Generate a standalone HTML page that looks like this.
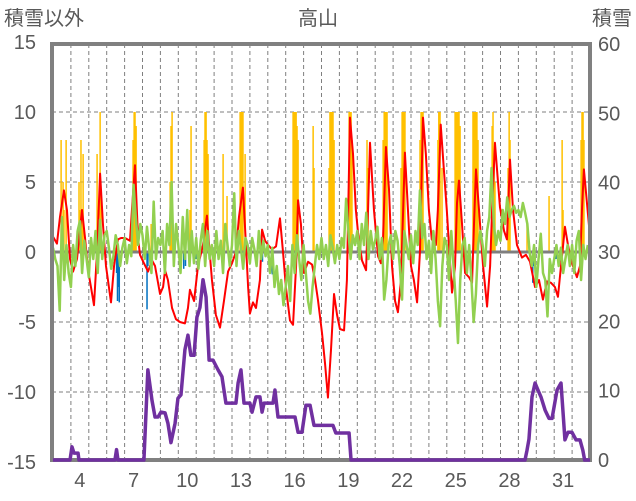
<!DOCTYPE html>
<html><head><meta charset="utf-8"><style>
body{margin:0;background:#fff;width:636px;height:501px;overflow:hidden}
svg{display:block}
text{font-family:"Liberation Sans","Noto Sans CJK JP",sans-serif;fill:#595959}
</style></head><body>
<svg id="chart" width="636" height="501" viewBox="0 0 636 501" xmlns="http://www.w3.org/2000/svg">
<defs><clipPath id="pc"><rect x="52" y="44" width="539" height="416"/></clipPath>
<clipPath id="pc2"><rect x="52" y="44" width="539" height="420"/></clipPath></defs>
<text x="318" y="25" font-size="20" text-anchor="middle">高山</text>
<text x="4" y="25" font-size="20">積雪以外</text>
<text x="632" y="25" font-size="20" text-anchor="end">積雪</text>
<g id="grid"></g>
<g id="marks" clip-path="url(#pc)"></g>
<g id="frame"></g>
<g id="snow" clip-path="url(#pc2)"></g>
<g id="labels"></g>
</svg>
<script>
const leftTicks=[15,10,5,0,-5,-10,-15];
const rightTicks=[60,50,40,30,20,10,0];
const xTickDays=[4,7,10,13,16,19,22,25,28,31];
const redT=[3.0,3.22,3.39,3.61,3.78,3.95,4.12,4.34,4.62,4.79,4.96,5.12,5.29,5.46,5.63,5.79,5.96,6.07,6.24,6.41,6.63,6.8,7.02,7.3,7.41,7.58,7.75,7.86,8.08,8.31,8.53,8.7,8.98,9.15,9.26,9.42,9.65,9.87,10.09,10.37,10.54,10.65,10.88,11.1,11.38,11.6,11.72,11.88,12.1,12.33,12.55,12.78,13.0,13.22,13.39,13.61,13.78,13.9,14.0,14.17,14.34,14.56,14.68,14.85,15.02,15.23,15.46,15.68,15.85,16.01,16.24,16.41,16.58,16.69,16.85,17.02,17.25,17.47,17.64,17.8,18.03,18.2,18.36,18.53,18.7,18.87,19.03,19.26,19.42,19.59,19.76,19.92,20.04,20.26,20.49,20.6,20.71,20.93,21.16,21.32,21.44,21.6,21.77,21.94,22.11,22.27,22.44,22.66,22.83,23.0,23.16,23.34,23.5,23.67,23.83,24.0,24.16,24.39,24.5,24.66,24.83,25.0,25.17,25.29,25.46,25.57,25.68,25.85,26.02,26.24,26.41,26.52,26.63,26.8,27.02,27.25,27.42,27.53,27.69,27.86,27.97,28.2,28.36,28.53,28.7,28.92,29.2,29.42,29.65,29.93,30.15,30.37,30.6,30.82,31.04,31.21,31.38,31.6,31.77,31.99,32.27,32.44,32.55,32.66,32.83,33.0];
const redV=[1.1,0.6,2.5,4.4,3,-0.5,-1.4,-0.5,3,1,-1.3,-2.5,-3.8,0,5.6,2,-1,-2,-3.6,-1,0.9,1,1,0.8,3,6.2,1,-0.2,-0.8,-1.4,-0.6,-1,-3,-2.5,-1.3,-2,-4,-4.8,-5,-5.1,-4,-2.7,-3.5,-1,0.5,2.6,0.5,-2,-4.5,-5.4,-3.5,-1.4,-0.8,0,2.5,4.6,0.5,-2.5,-4.4,-3.6,-4,-2,1.6,0.8,0.5,0.2,0.4,2.4,0,-2.5,-4.9,-5.2,-1,3.7,2,-1.5,-0.7,-0.9,-2,-3.4,-5.8,-8,-10.4,-7,-3,-4.5,-5.5,-5.6,-2,9.6,7,3,1.4,-0.6,-1.3,3,7.8,3,-0.3,-0.8,1,7.5,4.5,-1,-3.5,-4.3,-2,7.1,3,-1,-2,-3.6,0,9.6,7,3,0.9,0.5,3,9.1,6,3,-0.5,-2.9,-1,3.5,5.1,2,-1.5,-1.8,-2.2,2,5.9,3,-0.9,-3.9,-1,3,7.8,5,3.2,1.5,0.9,6.6,3,0.5,-0.4,-0.2,-0.7,-2.5,-2,-3.4,-2.1,-2.2,-2.5,-3.2,-1,1.8,0.5,-0.8,-1.8,-1,3,5.9,3.5,1.1];
const greenStartDay=3;
const greenStepsPerDay=8;
const greenV=[
0.3,-0.5,-1,-4.2,2.5,-2,0.5,-1.5,
-2.5,0.5,-1,1.5,2.2,-1.5,0.8,-0.5,
-1.8,1,-0.5,1.5,-1.5,2.3,-0.5,1.2,
1.5,0.3,-1.2,-0.3,1.2,0.5,-1,0.3,
1,-0.8,0.5,-0.3,4.8,2.5,0.5,2,
1.2,-0.5,1.8,0.2,-1.5,3.6,-0.5,1,
0.5,1.5,-1.5,2,0.5,5,-1,2,
0.5,-1.5,2.5,-0.5,3,-1,1.5,-0.8,
1,-1.2,0.8,2,-1,1.5,-0.5,0.5,
-1,1.5,-0.5,0.8,-1.5,2,0.5,-1,
0.5,4.2,-1,1.5,0.3,-1.2,1,0.5,
-0.8,1,0.2,-1,1.5,-0.5,0.8,-0.3,
0.5,-1.5,0.3,-2.5,-1,-3,-2,-3.8,
-2.5,-1,-3.5,0.5,-1.5,1.2,-0.5,-2,
0.5,-1.5,-3.5,-4.4,-2.5,-1,0.5,-0.5,
1,-0.5,0.5,-1,1.2,0.3,-0.8,0.5,
-0.5,1,0.3,3.8,1.5,-0.5,1.2,0.5,
1.5,-0.5,2,0.5,2.8,-0.5,1.5,0.2,
0.8,1.8,-0.5,1,-3.4,-2,0.5,1.2,
-0.5,1.5,0.8,-1,-3.4,1.5,0.5,-0.5,
1.2,-0.8,1.5,0.5,4.4,1,2,-0.5,
0.8,-1.5,1.5,-0.5,-3.5,-5.3,-1,1,
0.5,-2,1.5,-1,-3.5,-6.5,-2,0.5,
1,-1.5,0.5,-2,-5,-3,0.5,1.5,
0.5,-1,1.5,2.5,6,2,0.5,1.5,
0.8,3,2,3.9,2.5,3,3.3,2.8,
3,2.5,3.5,2.8,2,0,-1,0.5,
-2.5,-0.5,1.3,-1.5,-2,-4.6,-0.5,-1.5,
-0.5,0.5,-1,0.3,-1.5,-0.5,0.5,-1,
0.5,-1.5,0.8,1.5,-2,0.5,-0.5,0.5];
const snowT=[3.0,3.95,4.06,4.17,4.4,4.45,6.46,6.55,6.63,8.08,8.3,8.53,8.7,8.87,9.03,9.26,9.42,9.59,9.82,9.98,10.15,10.37,10.54,10.7,10.88,11.04,11.21,11.38,11.55,11.72,11.94,12.22,12.44,12.66,13.22,13.34,13.5,13.67,14.0,14.12,14.34,14.56,14.68,14.79,15.29,15.4,15.57,16.52,16.69,16.91,17.13,17.36,17.58,18.64,18.8,19.54,19.65,29.37,29.48,29.59,29.76,29.93,30.09,30.26,30.49,30.71,30.88,31.16,31.38,31.6,31.77,31.99,32.22,32.44,32.6,32.7,33.0];
const snowV=[0,0,1.9,1,1,0,0,1.5,0,0,13,8.6,6.2,6.2,6.9,6.8,5.3,2.5,5.3,8.9,9.4,15.9,18,15.1,15.1,20.6,22,26,23.5,14.4,14.4,13,12,8.2,8.2,11.1,13,8.2,8.2,6.9,9.1,9.1,6.9,8.2,8.2,10.1,6.2,6.2,4,4,7.9,7.9,5,5,3.9,3.9,0,0,1.4,3,9.1,11.1,10.1,9.1,7.2,6,6,10.1,11.1,2.9,4,4,2.9,2.9,1.4,0,0];
const sunT=[3.45,3.5,3.56,3.61,3.73,4.45,4.5,4.56,4.62,4.68,5.46,5.51,5.63,5.68,7.47,7.53,7.58,7.64,8.48,9.54,9.59,9.65,10.65,10.71,11.44,11.49,11.55,11.6,11.66,12.5,12.72,13.45,13.5,13.56,13.61,13.73,16.41,16.46,16.52,16.58,16.63,16.69,17.53,17.58,18.42,18.47,18.53,18.59,18.64,18.7,19.54,19.59,19.65,19.7,20.54,20.6,21.44,21.5,21.55,21.61,21.66,22.44,22.5,22.55,22.61,22.66,23.5,23.56,23.61,23.67,24.5,24.55,24.62,24.73,25.46,25.51,25.57,25.62,25.68,25.74,26.46,26.52,26.57,26.63,26.68,26.74,27.53,27.58,27.64,27.69,28.42,28.48,28.53,29.48,30.71,31.44,31.49,32.5,32.55,32.61,32.66];
const sunV=[8,2,5,3,8,5,3,8,3,7,7,3,10,4,8,10,10,9,2,5,9,10,3,9,8,10,10,8,7,7,4,10,10,10,10,7,10,10,10,10,9,8,9,6,6,10,10,10,10,8,10,10,10,8,8,6,8,10,10,10,10,6,10,10,10,10,8,10,10,10,8,10,10,6,10,10,10,10,10,9,10,10,10,10,10,8,9,10,7,5,6,10,8,2,4,8,3,8,10,10,8];
const precT=[3.1,6.55,6.6,6.65,6.7,8.25,8.3,9.3,10.3,10.4,11.0,14.7,15.25,17.05,29.8,29.85,31.1];
const precV=[-0.4,-1.5,-3.5,-2.5,-3.6,-4.1,-1,-0.6,-1.2,-1,-0.5,-0.7,-1.6,-0.6,-2.2,-1,-0.5];

const NS='http://www.w3.org/2000/svg';
const X0=53,DAYPX=17.9,Y0=252,UNIT=14,YB=460,RUNIT=416/60;
function xs(d){return X0+(d-3)*DAYPX;}
function yl(v){return Y0-v*UNIT;}
function yr(v){return YB-v*RUNIT;}
function mk(tag,attrs,parent){const e=document.createElementNS(NS,tag);for(const k in attrs)e.setAttribute(k,attrs[k]);parent.appendChild(e);return e;}
const grid=document.getElementById('grid'),marks=document.getElementById('marks'),frame=document.getElementById('frame'),labels=document.getElementById('labels'),snow=document.getElementById('snow');
for(let d=4;d<=32;d++){const l=mk('line',{x1:xs(d),x2:xs(d),y1:44,y2:460,stroke:'#7f7f7f','stroke-width':1,'stroke-dasharray':'4,3'},grid);

}
leftTicks.forEach(v=>{if(v!==0&&Math.abs(v)!==15){const l=mk('line',{x1:52,x2:590,y1:yl(v),y2:yl(v),stroke:'#7f7f7f','stroke-width':1,'stroke-dasharray':'4,3'},grid);

}});
sunT.forEach((t,i)=>{const y=yl(Math.min(sunV[i],10));const r=mk('rect',{x:xs(t)-0.7,y:y,width:1.5,height:Y0-y,fill:'#ffc000'},marks);

});
precT.forEach((t,i)=>{const r=mk('rect',{x:xs(t)-0.7,y:Y0,width:1.5,height:-precV[i]*UNIT,fill:'#0070c0'},marks);

});
const zl=mk('line',{x1:52,x2:590,y1:Y0,y2:Y0,stroke:'#7f7f7f','stroke-width':3},marks);


const rp=mk('polyline',{points:redT.map((t,i)=>xs(t)+','+yl(redV[i])).join(' '),fill:'none',stroke:'#ff0000','stroke-width':2,'stroke-linejoin':'round'},marks);


const gp=mk('polyline',{points:greenV.map((v,i)=>xs(greenStartDay+i/greenStepsPerDay)+','+yl(v)).join(' '),fill:'none',stroke:'#92d050','stroke-width':2.5,'stroke-linejoin':'round'},marks);


const fr=mk('path',{d:'M52,460 V44 H590 V460 Z',fill:'none',stroke:'#808080','stroke-width':4},frame);


const sp=mk('polyline',{points:snowT.map((t,i)=>xs(t)+','+yr(snowV[i])).join(' '),fill:'none',stroke:'#7030a0','stroke-width':3.5,'stroke-linejoin':'round'},snow);


leftTicks.forEach(v=>{const t=mk('text',{x:36,y:yl(v)+7,'font-size':20,'text-anchor':'end'},labels);t.textContent=v;

});
rightTicks.forEach(v=>{const t=mk('text',{x:598,y:yr(v)+7,'font-size':20},labels);t.textContent=v;

});
xTickDays.forEach(d=>{const t=mk('text',{x:xs(d+0.5),y:487,'font-size':20,'text-anchor':'middle'},labels);t.textContent=d;

});
</script>
</body></html>
